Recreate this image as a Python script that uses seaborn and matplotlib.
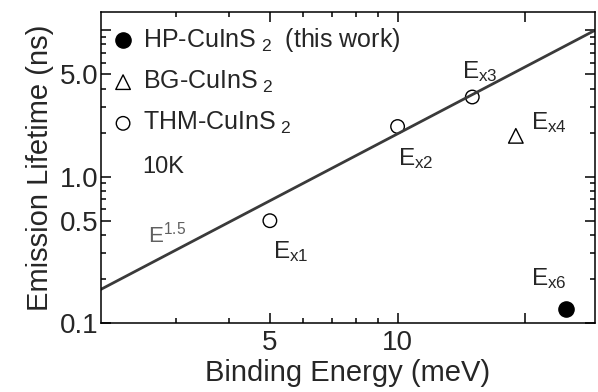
import matplotlib
matplotlib.use('Agg')
import matplotlib.pyplot as plt
import seaborn as sns
from matplotlib.ticker import FixedLocator, FixedFormatter, NullFormatter

# ---- data ----
hp_label = 'HP-CuInS$\\;{}_{2}\\;$ (this work)'
bg_label = 'BG-CuInS$\\;{}_{2}$'
thm_label = 'THM-CuInS$\\;{}_{2}$'
hp_energy = [25.0]
hp_life = [0.125]
bg_energy = [19.0]
bg_life = [1.9]
thm_energy = [5.0, 10.0, 15.0]
thm_life = [0.5, 2.2, 3.5]
fit_energy = [2.0, 29.2]
fit_life = [0.17, 10.0]
point_names = ['x1', 'x2', 'x3', 'x4', 'x6']
point_energy = [5.0, 10.0, 15.0, 19.0, 25.0]
point_life = [0.5, 2.2, 3.5, 1.9, 0.125]
x_ticks = [5, 10, 20]
x_ticklabels = ['5', '10', '']
x_minor = [3, 4, 6, 7, 8, 9]
y_ticks = [0.1, 0.5, 1.0, 5.0, 10.0]
y_ticklabels = ['0.1', '0.5', '1.0', '5.0', '']
y_minor = [0.2, 0.3, 0.4, 0.6, 0.7, 0.8, 0.9, 2, 3, 4, 6, 7, 8, 9]

sns.set_theme(style='ticks')
plt.rcParams['font.family'] = ['Liberation Sans', 'DejaVu Sans']
plt.rcParams['mathtext.fontset'] = 'custom'
plt.rcParams['mathtext.rm'] = 'Liberation Sans'
plt.rcParams['mathtext.it'] = 'Liberation Sans'
plt.rcParams['mathtext.bf'] = 'Liberation Sans:bold'

fig = plt.figure(figsize=(5.98, 3.92), dpi=100)
ax = fig.add_axes([0.169, 0.176, 0.826, 0.793])
ax.set_xscale('log')
ax.set_yscale('log')

sns.lineplot(x=fit_energy, y=fit_life, ax=ax, color='#3a3a3a', lw=2.0,
             legend=False)
sns.scatterplot(x=hp_energy, y=hp_life, ax=ax, marker='o', s=120,
                color='black', edgecolor='black', linewidth=1.0, label=hp_label)
sns.scatterplot(x=bg_energy, y=bg_life, ax=ax, marker='^', s=110,
                facecolor='none', edgecolor='black', linewidth=1.0, label=bg_label)
sns.scatterplot(x=thm_energy, y=thm_life, ax=ax, marker='o', s=95,
                facecolor='none', edgecolor='black', linewidth=1.0, label=thm_label)

ax.set_xlim(2.0, 29.2)
ax.set_ylim(0.1, 13.3)

ax.xaxis.set_major_locator(FixedLocator(x_ticks))
ax.xaxis.set_major_formatter(FixedFormatter(x_ticklabels))
ax.xaxis.set_minor_locator(FixedLocator(x_minor))
ax.xaxis.set_minor_formatter(NullFormatter())
ax.yaxis.set_major_locator(FixedLocator(y_ticks))
ax.yaxis.set_major_formatter(FixedFormatter(y_ticklabels))
ax.yaxis.set_minor_locator(FixedLocator(y_minor))
ax.yaxis.set_minor_formatter(NullFormatter())

ax.tick_params(which='both', direction='in', top=True, right=True,
               color='black', labelsize=20, width=1.1)
ax.tick_params(which='major', length=7)
ax.tick_params(which='minor', length=3.6)
ax.tick_params(axis='y', pad=2)
ax.tick_params(axis='x', pad=5)
for sp in ax.spines.values():
    sp.set_color('black')
    sp.set_linewidth(1.1)

ax.set_xlabel('Binding Energy (meV)', fontsize=21, labelpad=2)
ax.set_ylabel('Emission Lifetime (ns)', fontsize=21, labelpad=4)

leg = ax.legend(loc='upper left', bbox_to_anchor=(0.0, 0.995), frameon=False,
                fontsize=18, handlelength=0.8, handletextpad=0.4,
                labelspacing=0.6, borderaxespad=0.2, borderpad=0.28)

ax.text(0.083, 0.482, '10K', transform=ax.transAxes, fontsize=17,
        ha='left', va='baseline')
ax.text(0.095, 0.26, 'E$^{1.5}$', transform=ax.transAxes, fontsize=16,
        color='#606060', ha='left', va='baseline')

# offsets in pixels (dx right, dy up) of label baseline from point
offsets_px = [(3, -37), (0, -39), (-10, 19), (15, 7), (-35, 24)]
for name, ex, ly, (dx, dy) in zip(point_names, point_energy, point_life, offsets_px):
    ax.annotate('E$_{\\mathrm{' + name + '}}$', xy=(ex, ly),
                xytext=(dx * 0.72, dy * 0.72), textcoords='offset points',
                fontsize=17.5, ha='left', va='baseline')

fig.savefig('out.png', dpi=100)
